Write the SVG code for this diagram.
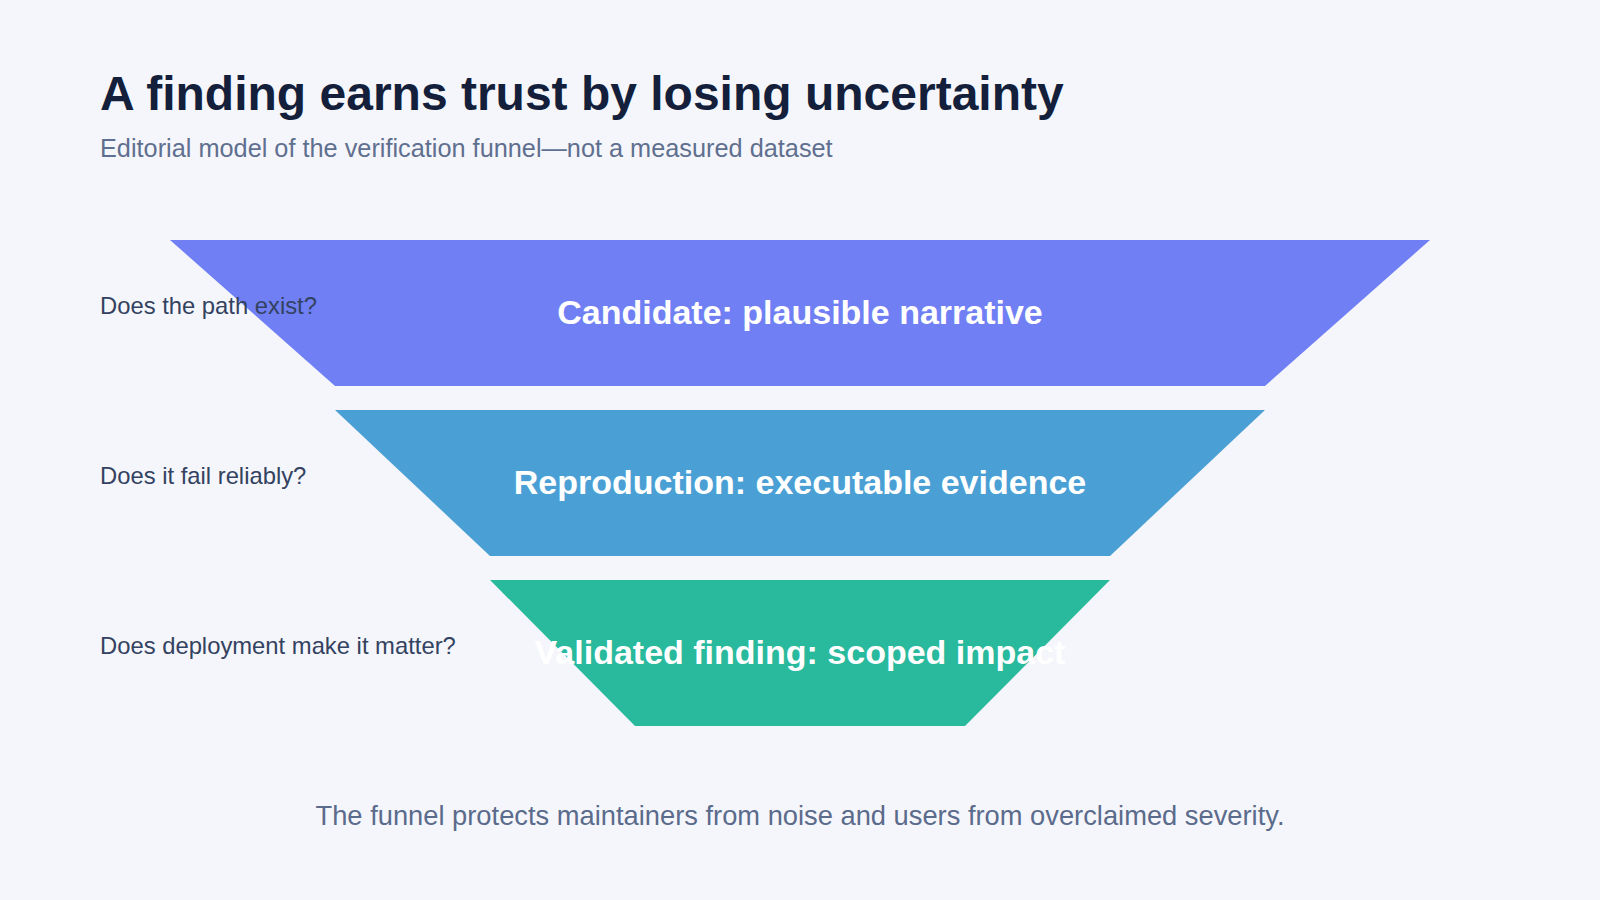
<svg xmlns="http://www.w3.org/2000/svg" width="1600" height="900" viewBox="0 0 1600 900">
<style>
.title{font-family:"Liberation Sans",Arial,sans-serif;font-weight:700;font-size:48px;fill:#141f3b}
.sub{font-family:"Liberation Sans",Arial,sans-serif;font-size:25.3px;fill:#5f6f8f}
.q{font-family:"Liberation Sans",Arial,sans-serif;font-size:23.8px;fill:#334260}
.stage{font-family:"Liberation Sans",Arial,sans-serif;font-weight:700;font-size:34px;fill:#ffffff;text-anchor:middle}
.foot{font-family:"Liberation Sans",Arial,sans-serif;font-size:27.3px;fill:#5b6b8c;text-anchor:middle}
</style>
<rect x="0" y="0" width="1600" height="900" fill="#f5f6fb"/>
<text class="title" x="100" y="110">A finding earns trust by losing uncertainty</text>
<text class="sub" x="100" y="157">Editorial model of the verification funnel—not a measured dataset</text>
<g id="stage-candidate">
<polygon points="170,240 1430,240 1265,386 335,386" fill="#7080f4"/>
<text class="stage" x="800" y="324">Candidate: plausible narrative</text>
</g>
<g id="stage-reproduction">
<polygon points="335,410 1265,410 1110,556 490,556" fill="#4aa0d5"/>
<text class="stage" x="800" y="494">Reproduction: executable evidence</text>
</g>
<g id="stage-validated">
<polygon points="490,580 1110,580 965,726 635,726" fill="#29b99d"/>
<text class="stage" x="800" y="664">Validated finding: scoped impact</text>
</g>
<g id="questions">
<text class="q" x="100" y="314">Does the path exist?</text>
<text class="q" x="100" y="484">Does it fail reliably?</text>
<text class="q" x="100" y="654">Does deployment make it matter?</text>
</g>
<g id="connectors"></g>
<text class="foot" x="800" y="825">The funnel protects maintainers from noise and users from overclaimed severity.</text>
</svg>
